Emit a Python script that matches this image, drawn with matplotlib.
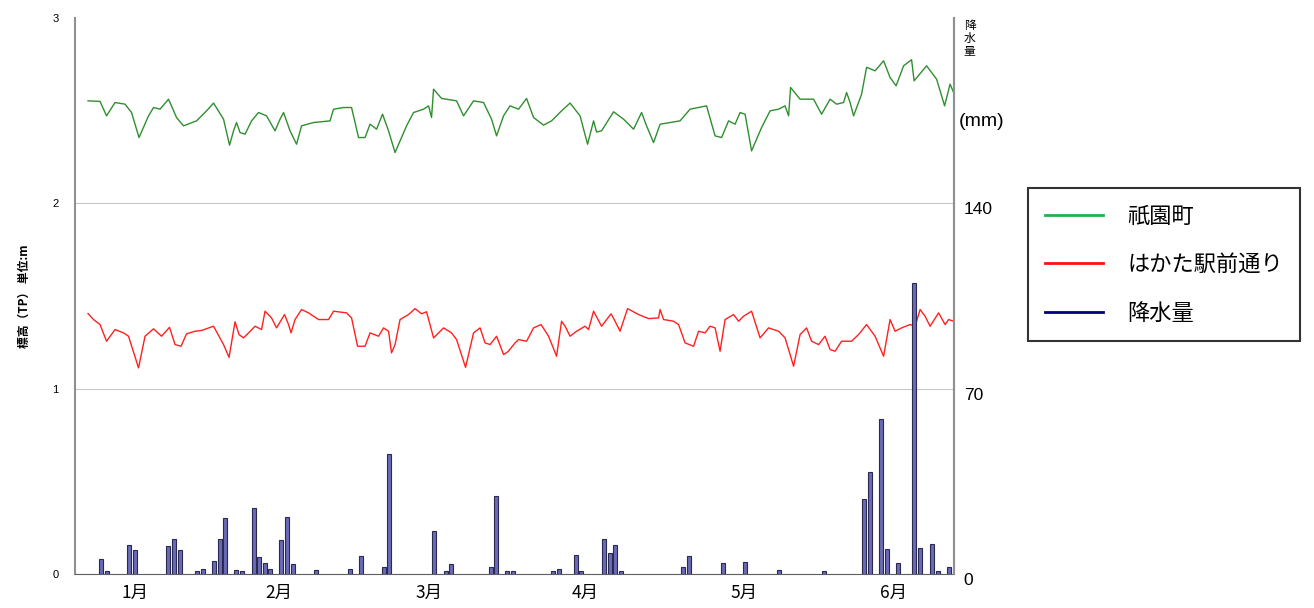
import matplotlib
matplotlib.use("Agg")
import matplotlib.pyplot as plt
import matplotlib.transforms as mtransforms
from matplotlib.lines import Line2D

plt.rcParams['font.family'] = ['Noto Sans CJK JP', 'DejaVu Sans']

# x = day index from start of record
gion_x = [0, 2.4, 3.7, 5.4, 7.4, 8.7, 10.2, 12.1, 13.1, 14.4, 16.1, 17.7, 19.1, 21.7, 23.7,
          25.1, 27.1, 28.3, 29.1, 29.7, 30.4, 31.4, 32.7, 34.1, 35.7, 37.4, 38.4, 39.1, 40.4,
          41.7, 42.7, 45.1, 48.4, 49.1, 51.1, 52.7, 54.1, 55.4, 56.4, 57.7, 58.9, 60.1, 61.4,
          63.7, 65.1, 67.1, 68.1, 68.7, 69.1, 70.7, 73.7, 75.1, 77.1, 79.1, 80.7, 81.7, 83.1,
          84.4, 86.1, 87.7, 89.1, 91.1, 92.7, 94.7, 96.4, 98.4, 99.9, 101.1, 101.7, 102.7,
          105.1, 107.1, 109.1, 110.7, 111.7, 113.1, 114.4, 118.4, 120.4, 123.7, 125.4, 126.7,
          128.1, 129.4, 130.4, 131.4, 132.7, 134.7, 136.4, 138.1, 139.4, 140.1, 140.5, 142.4,
          145.1, 146.7, 148.4, 149.7, 151.1, 151.7, 152.4, 153.1, 154.7, 155.7, 157.4, 159.1,
          160.4, 161.6, 163.1, 164.7, 165.2, 167.7, 169.7, 171.3, 172.4, 173.1]
gion_y = [2.553, 2.550, 2.472, 2.544, 2.535, 2.490, 2.355, 2.472, 2.517, 2.508, 2.562, 2.463,
          2.418, 2.445, 2.499, 2.541, 2.454, 2.314, 2.391, 2.436, 2.382, 2.373, 2.445, 2.490,
          2.472, 2.391, 2.454, 2.490, 2.391, 2.319, 2.418, 2.436, 2.445, 2.508, 2.517, 2.517,
          2.355, 2.355, 2.427, 2.400, 2.481, 2.391, 2.274, 2.418, 2.490, 2.508, 2.526, 2.463,
          2.616, 2.566, 2.553, 2.472, 2.553, 2.544, 2.454, 2.364, 2.472, 2.526, 2.508, 2.566,
          2.463, 2.422, 2.445, 2.499, 2.541, 2.472, 2.319, 2.445, 2.385, 2.391, 2.494, 2.454,
          2.400, 2.490, 2.418, 2.328, 2.427, 2.445, 2.508, 2.526, 2.364, 2.355, 2.445, 2.427,
          2.490, 2.481, 2.283, 2.409, 2.499, 2.508, 2.526, 2.472, 2.625, 2.562, 2.562, 2.481,
          2.562, 2.535, 2.544, 2.598, 2.544, 2.472, 2.589, 2.734, 2.715, 2.769, 2.679, 2.634,
          2.742, 2.775, 2.661, 2.742, 2.670, 2.526, 2.643, 2.598]

hakata_x = [0, 1.1, 2.4, 3.7, 5.4, 7.1, 8.1, 10.1, 11.4, 13.1, 14.7, 16.3, 17.4, 18.6, 19.7,
            21.4, 22.7, 25.1, 27.1, 28.2, 29.4, 30.2, 31.1, 32.1, 33.4, 34.7, 35.4, 36.7, 37.7,
            39.3, 40.1, 40.6, 41.4, 42.7, 44.1, 46.1, 48.1, 49.1, 51.7, 52.7, 53.9, 55.4, 56.4,
            58.1, 59.1, 60.1, 60.7, 61.4, 62.4, 64.1, 65.4, 66.7, 67.7, 69.1, 71.1, 72.7, 73.7,
            75.5, 77.1, 78.4, 79.4, 80.4, 81.7, 83.1, 84.0, 85.4, 86.1, 87.7, 89.1, 90.6, 92.1,
            93.7, 94.7, 95.4, 96.4, 97.7, 99.4, 100.1, 101.1, 102.7, 104.6, 105.4, 106.4, 107.9,
            110.1, 112.1, 114.1, 114.4, 115.1, 117.1, 118.1, 119.4, 121.1, 122.1, 123.4, 124.4,
            125.4, 126.4, 127.4, 129.1, 130.1, 131.1, 132.7, 134.4, 136.1, 138.1, 139.4, 141.1,
            142.4, 143.7, 144.7, 146.1, 147.4, 148.4, 149.4, 150.7, 152.7, 154.1, 155.7, 157.4,
            159.1, 160.4, 161.4, 162.7, 164.4, 165.4, 166.4, 167.4, 168.4, 170.1, 171.4, 172.1,
            173.1]
hakata_y = [1.405, 1.373, 1.346, 1.256, 1.319, 1.301, 1.283, 1.112, 1.283, 1.323, 1.283, 1.331,
            1.238, 1.229, 1.296, 1.310, 1.314, 1.337, 1.238, 1.169, 1.361, 1.292, 1.274, 1.301,
            1.337, 1.319, 1.418, 1.382, 1.328, 1.400, 1.346, 1.301, 1.373, 1.427, 1.409, 1.373,
            1.373, 1.418, 1.409, 1.382, 1.229, 1.229, 1.301, 1.283, 1.328, 1.310, 1.193, 1.238,
            1.373, 1.400, 1.432, 1.404, 1.415, 1.274, 1.328, 1.301, 1.265, 1.115, 1.301, 1.328,
            1.247, 1.238, 1.283, 1.184, 1.200, 1.247, 1.265, 1.256, 1.328, 1.346, 1.283, 1.175,
            1.364, 1.337, 1.283, 1.310, 1.337, 1.319, 1.418, 1.337, 1.404, 1.364, 1.310, 1.432,
            1.400, 1.378, 1.382, 1.427, 1.373, 1.364, 1.346, 1.247, 1.229, 1.310, 1.301, 1.337,
            1.328, 1.202, 1.373, 1.400, 1.364, 1.391, 1.418, 1.274, 1.328, 1.310, 1.274, 1.121,
            1.292, 1.328, 1.256, 1.238, 1.283, 1.211, 1.202, 1.256, 1.256, 1.292, 1.346, 1.283,
            1.175, 1.373, 1.310, 1.328, 1.346, 1.337, 1.427, 1.391, 1.337, 1.409, 1.346, 1.373,
            1.364]

rain_x = [2.5, 3.7, 8.2, 9.3, 15.9, 17.2, 18.3, 21.7, 22.9, 25.1, 26.3, 27.4, 29.6, 30.7,
          33.1, 34.2, 35.3, 36.4, 38.6, 39.8, 40.9, 45.5, 52.3, 54.5, 59.1, 60.2, 69.2, 71.5,
          72.6, 80.5, 81.6, 83.8, 84.9, 92.9, 94.1, 97.5, 98.6, 103.1, 104.3, 105.4, 106.5,
          118.9, 120.1, 126.9, 131.4, 138.2, 147.1, 155.1, 156.3, 158.5, 159.7, 161.9, 165.2,
          166.4, 168.7, 169.9, 172.1]
rain_mm = [5.7, 1, 11, 9.1, 10.6, 13.2, 9.1, 1, 2, 4.8, 13.2, 21.2, 1.5, 1,
           25, 6.6, 4.2, 2, 12.9, 21.7, 3.8, 1.5, 2, 6.8, 2.5, 45.4, 16.1, 1,
           3.8, 2.5, 29.4, 1, 1, 1, 2, 7.3, 1, 13.2, 7.8, 11, 1,
           2.5, 6.8, 4.2, 4.7, 1.5, 1, 28.4, 38.5, 58.5, 9.5, 4.2, 110,
           10, 11.4, 1, 2.5]

month_pos = [9.4, 38.1, 68.1, 99.4, 131.1, 161.1]
month_labels = ['1月', '2月', '3月', '4月', '5月', '6月']

fig = plt.figure(figsize=(13.14, 6.08), dpi=100)
ax = fig.add_axes([0.0571, 0.0559, 0.669, 0.9145])

ax.plot(gion_x, gion_y, color='#2f8f2f', lw=1.0, zorder=3)
ax.plot(hakata_x, hakata_y, color='#ff2020', lw=1.0, zorder=3)

ax.set_xlim(-2.6, 173.2)
ax.set_ylim(0, 3)
ax.set_yticks([0, 1, 2, 3])
ax.set_yticklabels(['0', '1', '2', '3'], fontsize=8, family=['Liberation Sans'])
ax.tick_params(axis='y', length=0, pad=12)
ax.yaxis.grid(True, color='#c8c8c8', lw=0.8)
ax.get_ygridlines()[-1].set_visible(False)
ax.set_axisbelow(True)
ax.set_xticks(month_pos)
ax.set_xticklabels(month_labels, fontsize=12.5)
ax.tick_params(axis='x', length=0, pad=7)
ax.set_ylabel('標高（TP） 単位:m', fontsize=8.5, fontweight='bold', labelpad=15)

ax.spines['top'].set_visible(False)
ax.spines['left'].set_color('#909090')
ax.spines['left'].set_linewidth(1.5)
ax.spines['bottom'].set_color('#606060')
ax.spines['right'].set_color('#909090')
ax.spines['right'].set_linewidth(1.5)

ax2 = ax.twinx()
ax2.bar(rain_x, rain_mm, width=0.8, color='#6a6ab8', edgecolor='#2a2a50', linewidth=0.8, zorder=4)
ax2.set_ylim(0, 210)
ax2.set_yticks([0, 70, 140])
ax2.set_yticklabels(['0', '70', '140'], fontsize=12.5, family=['Liberation Sans'])
ax2.tick_params(axis='y', length=0, pad=7)
# right-hand labels sit a little below their gridlines
shift = mtransforms.ScaledTranslation(0, -5 / 100, fig.dpi_scale_trans)
for lab in ax2.get_yticklabels():
    lab.set_transform(lab.get_transform() + shift)
ax2.spines['top'].set_visible(False)
ax2.spines['right'].set_color('#909090')
ax2.spines['right'].set_linewidth(1.5)
ax2.spines['left'].set_visible(False)
ax2.spines['bottom'].set_visible(False)

fig.text(0.7335, 0.968, '降\n水\n量', fontsize=8.5, ha='left', va='top', linespacing=1.0)
fig.text(0.7300, 0.80, '(mm)', fontsize=14, ha='left', va='center', family=['Liberation Sans'])

handles = [Line2D([], [], color='#22b14c', lw=2),
           Line2D([], [], color='#ff1010', lw=2),
           Line2D([], [], color='#000080', lw=2)]
leg = fig.legend(handles, ['祇園町', 'はかた駅前通り', '降水量'],
                 loc='upper left', bbox_to_anchor=(0.7825, 0.691),
                 fontsize=16, frameon=True, fancybox=False, edgecolor='black',
                 handlelength=2.6, handletextpad=1.1, labelspacing=1.15,
                 borderpad=0.75, borderaxespad=0)
leg.get_frame().set_linewidth(1.5)

fig.savefig('out.png', dpi=100)
